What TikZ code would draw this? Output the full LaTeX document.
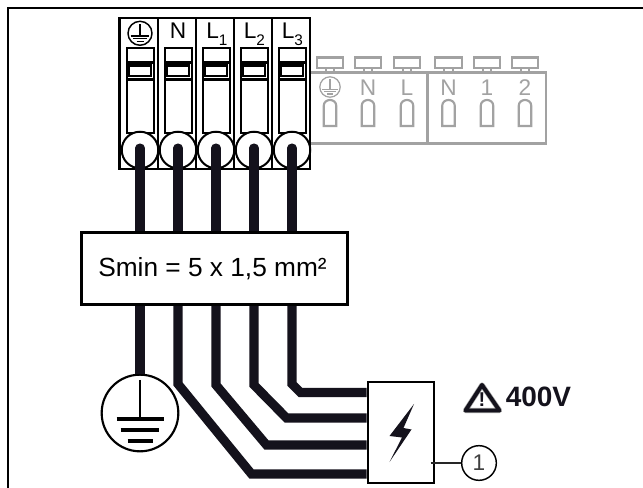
\documentclass[tikz,border=0pt]{standalone}
\usepackage{fontspec}
\setmainfont{Liberation Sans}
\definecolor{wirec}{HTML}{14121C}
\definecolor{greyc}{HTML}{A2A2A2}
\tikzset{
  wire/.style={draw=wirec,line width=6.8pt,miter limit=10},
  frameline/.style={draw=black,line width=1.5pt},
  blockline/.style={draw=black,line width=2.1pt},
  slotline/.style={draw=black,line width=1.5pt},
  greyline/.style={draw=greyc,line width=1.6pt},
  bigbox/.style={draw=black,line width=2pt,fill=white,inner sep=0pt},
  termlabel/.style={font=\fontsize{17}{17}\selectfont,inner sep=0pt},
  greylabel/.style={font=\fontsize{17}{17}\selectfont,inner sep=0pt,text=greyc},
  callout/.style={circle,draw=black,line width=1.1pt,fill=white,inner sep=0pt,minimum size=26pt,font=\fontsize{17}{17}\selectfont,text=black!75},
}
\newcommand\lsub[1]{L\raisebox{-0.3em}{\fontsize{11.5}{11.5}\selectfont #1}}
% x, y, scale, colour
\newcommand\earthmark[4]{%
  \begin{scope}[shift={(#1,#2)},x=#3*0.75pt,y=-#3*0.75pt,draw=#4,line width=#3*1.1pt]
    \draw (0,0) circle[radius=12*#3*0.75pt];
    \draw (0,-9) -- (0,3);
    \draw (-9.3,2.6) -- (9.3,2.6);
    \draw (-6.7,5.4) -- (6.7,5.4);
    \draw (-3.5,8.2) -- (3.5,8.2);
  \end{scope}}
\begin{document}
\begin{tikzpicture}[x=0.75pt,y=-0.75pt]
\useasboundingbox[fill=white] (0,0) rectangle (643,488);
% outer frame
\draw[frameline] (8,488) -- (8,8) -- (643,8);

% grey terminal strip
\draw[greyline] (310,72.5) rectangle (427.5,143.5);
\draw[greyline] (427.5,72.5) rectangle (546,143.5);
\foreach \x in {330,368,407,448.5,487,525}{
  \draw[greyline] (\x-13.3,57.5) rectangle (\x+13.3,68);
  \draw[greyline] (\x-4.3,68) rectangle (\x+4.3,72.5);
  \draw[greyline] (\x-6.3,126) -- (\x-6.3,106) .. controls (\x-6.3,98) and (\x+6.3,98) .. (\x+6.3,106) -- (\x+6.3,126) -- cycle;
}
\earthmark{330}{87}{0.85}{greyc}
\node[greylabel] (gn1) at (368,88) {N};
\node[greylabel] (gl) at (407,88) {L};
\node[greylabel] (gn2) at (448.5,88) {N};
\node[greylabel] (g1) at (487,88) {1};
\node[greylabel] (g2) at (525,88) {2};

% main terminal block
\draw[blockline] (119.5,18) rectangle (310,169);
\foreach \x in {158,196,234,272}{\draw[slotline] (\x,18) -- (\x,169);}
\foreach \x in {140,178,216,254,292}{
  \draw[slotline] (\x-13.5,48) rectangle (\x+13.5,133);
  \draw[slotline,line width=2.2pt] (\x-13.5,62.5) -- (\x+13.5,62.5);
  \draw[slotline,line width=1.9pt] (\x-11,65.5) rectangle (\x+11,76);
  \draw[slotline,line width=2.2pt] (\x-13.5,79.5) -- (\x+13.5,79.5);
  \draw[black,line width=1.5pt,fill=white] (\x,150) circle[radius=13.7pt];
}
\earthmark{140}{33.3}{1}{black}
\node[termlabel] (ln) at (178,31) {N};
\node[termlabel,anchor=base west] (l1) at (206,39) {\lsub{1}};
\node[termlabel,anchor=base west] (l2) at (243.5,39) {\lsub{2}};
\node[termlabel,anchor=base west] (l3) at (281.5,39) {\lsub{3}};

% cable box and source box
\coordinate (tpe) at (140,148);
\coordinate (tn)  at (178,148);
\coordinate (tl1) at (216,148);
\coordinate (tl2) at (254,148);
\coordinate (tl3) at (292,148);
\node[bigbox,minimum width=199.5pt,minimum height=54pt] (cable) at (214.7,268.3) {};
\node[bigbox,minimum width=49.5pt,minimum height=75.7pt] (src) at (401,432.5) {};
\node[circle,draw=black,line width=1.6pt,fill=white,inner sep=0pt,minimum size=57.5pt] (earth) at (140,413) {};

% wires
\draw[wire,line cap=round] (tpe) -- (140,240);
\draw[wire] (140,300) -- (earth.north);
\draw[wire,line cap=round] (tn) -- (178,240);
\draw[wire,line cap=round] (tl1) -- (216,240);
\draw[wire,line cap=round] (tl2) -- (254,240);
\draw[wire,line cap=round] (tl3) -- (292,240);
\draw[wire] (178,300) -- (178,384) -- (251.5,474) -- (src.west |- 0,474);
\draw[wire] (216,300) -- (216,385) -- (266.5,445) -- (src.west |- 0,445);
\draw[wire] (254,300) -- (254,385) -- (286.5,418) -- (src.west |- 0,418);
\draw[wire] (292,300) -- (292,384) -- (300.5,392.5) -- (src.west |- 0,392.5);

% redraw box faces above the wires
\node[bigbox,minimum width=199.5pt,minimum height=54pt] (cableface) at (214.7,268.3) {};
\node[inner sep=0pt,font=\fontsize{19.7}{19.7}\selectfont] (cabletext) at (212.5,268.3) {Smin = 5 x 1,5 mm²};
\node[bigbox,minimum width=49.5pt,minimum height=75.7pt] (srcface) at (401,432.5) {};

% earth symbol
\draw[black,line width=2pt] (140,380) -- (140,419);
\draw[black,line width=2.5pt] (116.5,419) -- (163.5,419);
\draw[black,line width=3pt] (120.5,430) -- (159,430);
\draw[black,line width=3.2pt] (127.5,441) -- (152.5,441);

% lightning bolt
\fill[wirec] (414,404) -- (389.5,436) -- (402,437.5) -- (389.5,462) -- (411.5,429.5) -- (403.5,428) -- cycle;

% callout
\node[callout] (one) at (479,463) {1};
\coordinate (tap) at (430.7,463);
\draw[black!85,line width=1.2pt] (tap) -- (one);

% warning
\draw[greyc,line width=3.9pt,line join=round] (482,385) -- (465.5,410.5) -- (499.5,410.5) -- cycle;
\draw[wirec,line width=2.9pt,line join=round] (482,385) -- (465.5,410.5) -- (499.5,410.5) -- cycle;
\node[inner sep=0pt,font=\bfseries\fontsize{15}{15}\selectfont,text=wirec] (bang) at (482,400) {!};
\node[inner sep=0pt,font=\bfseries\fontsize{21}{21}\selectfont,anchor=base west,text=wirec] (volt) at (505.5,406.5) {400V};
\end{tikzpicture}
\end{document}
